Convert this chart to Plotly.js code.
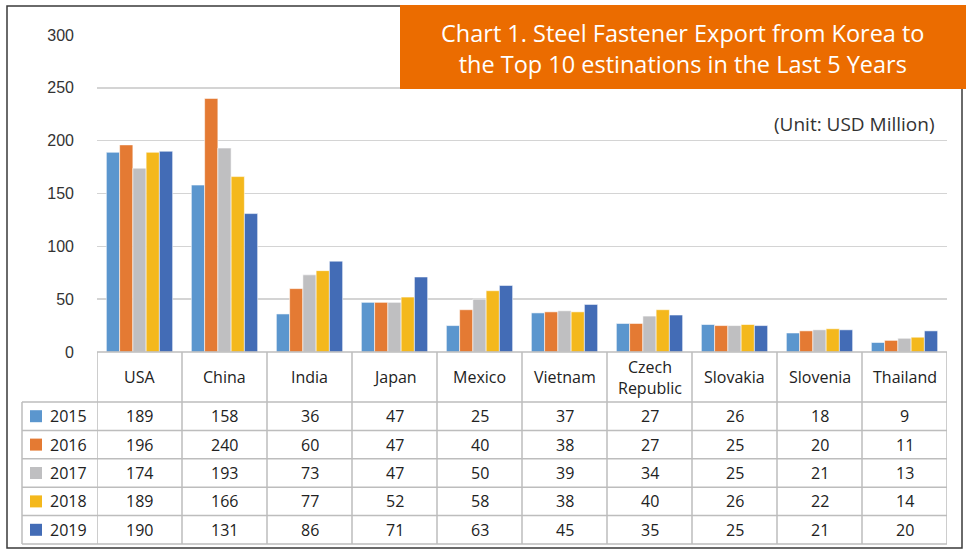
<!DOCTYPE html>
<html>
<head>
<meta charset="utf-8">
<script src="https://cdn.plot.ly/plotly-3.0.1.min.js"></script>
<style>html,body{margin:0;padding:0;background:#fff;}#chart{width:968px;height:549px;}</style>
</head>
<body>
<div id="chart"></div>
<script>
// ---- data ----
const countries = ["USA", "China", "India", "Japan", "Mexico", "Vietnam", "Czech<br>Republic", "Slovakia", "Slovenia", "Thailand"];
const years = ["2015", "2016", "2017", "2018", "2019"];
const v2015 = [189, 158, 36, 47, 25, 37, 27, 26, 18, 9];
const v2016 = [196, 240, 60, 47, 40, 38, 27, 25, 20, 11];
const v2017 = [174, 193, 73, 47, 50, 39, 34, 25, 21, 13];
const v2018 = [189, 166, 77, 52, 58, 38, 40, 26, 22, 14];
const v2019 = [190, 131, 86, 71, 63, 45, 35, 25, 21, 20];
const yTicks = [0, 50, 100, 150, 200, 250, 300];
const titleLines = ["Chart 1. Steel Fastener Export from Korea to", "the Top 10 estinations in the Last 5 Years"];
const unitText = "(Unit: USD Million)";

const seriesValues = [v2015, v2016, v2017, v2018, v2019];
const colors = ["#5B96CE", "#E47A33", "#BFBFC1", "#F4B81C", "#436CB6"];

// ---- geometry helpers (pixels -> paper) ----
const W = 968, H = 549;
const L = 97, R = 947, T = 35, B = 352;
const px = x => (x - L) / (R - L);
const py = y => (B - y) / (B - T);

const traces = years.map((yr, i) => ({
  type: "bar",
  name: yr,
  x: countries,
  y: seriesValues[i],
  marker: {color: colors[i], line: {color: "rgba(255,255,255,0.7)", width: 0.8}},
  hoverinfo: "x+y+name"
}));

const shapes = [];
const annotations = [];
const lineColor = "#BDBDBD";
const rowTop = 402, rowH = 28.4;
const tableBottom = rowTop + rowH * years.length;
const textFamily = "'Open Sans', Roboto, sans-serif";

// outer border
shapes.push({type: "rect", xref: "paper", yref: "paper", x0: px(7), x1: px(962), y0: py(6), y1: py(548),
  line: {color: "#3a3a3a", width: 1.5}, fillcolor: "rgba(0,0,0,0)", layer: "above"});
// title box
shapes.push({type: "rect", xref: "paper", yref: "paper", x0: px(400), x1: px(966), y0: py(5), y1: py(89),
  line: {width: 0}, fillcolor: "#EB6C00", layer: "above"});

// table horizontal lines
shapes.push({type: "line", xref: "paper", yref: "paper", x0: px(L), x1: px(R), y0: py(B), y1: py(B), line: {color: lineColor, width: 1.5}});
for (let k = 0; k <= years.length; k++) {
  const y = rowTop + rowH * k;
  shapes.push({type: "line", xref: "paper", yref: "paper", x0: px(22), x1: px(R), y0: py(y), y1: py(y), line: {color: lineColor, width: 1.5}});
}
// table vertical lines
shapes.push({type: "line", xref: "paper", yref: "paper", x0: px(22), x1: px(22), y0: py(rowTop), y1: py(tableBottom), line: {color: lineColor, width: 1.5}});
for (let c = 0; c <= countries.length; c++) {
  shapes.push({type: "line", xref: "x", yref: "paper", x0: c - 0.5, x1: c - 0.5, y0: py(B), y1: py(tableBottom), line: {color: lineColor, width: 1.5}});
}

const tableFont = {family: textFamily, size: 16, color: "#222"};

// header row
countries.forEach((c, i) => {
  annotations.push({xref: "x", yref: "paper", x: c, y: py((B + rowTop) / 2), text: c, showarrow: false,
    font: tableFont, xanchor: "center", yanchor: "middle", align: "center"});
});
// data rows
years.forEach((yr, r) => {
  const yc = rowTop + rowH * (r + 0.5);
  shapes.push({type: "rect", xref: "paper", yref: "paper", x0: px(30), x1: px(42), y0: py(yc - 6), y1: py(yc + 6),
    fillcolor: colors[r], line: {width: 0}});
  annotations.push({xref: "paper", yref: "paper", x: px(48), y: py(yc), text: yr, showarrow: false,
    font: tableFont, xanchor: "left", yanchor: "middle"});
  seriesValues[r].forEach((v, i) => {
    annotations.push({xref: "x", yref: "paper", x: countries[i], y: py(yc), text: String(v), showarrow: false,
      font: tableFont, xanchor: "center", yanchor: "middle"});
  });
});

// title (single annotation, two lines)
annotations.push({xref: "paper", yref: "paper", x: px(683), y: py(49), text: titleLines.join("<br>"), showarrow: false,
  font: {family: textFamily, size: 23.5, color: "#fff"}, xanchor: "center", yanchor: "middle", align: "center"});
// unit
annotations.push({xref: "paper", yref: "paper", x: px(937), y: py(124), text: unitText, showarrow: false,
  font: {family: textFamily, size: 19, color: "#333"}, xanchor: "right", yanchor: "middle"});

const layout = {
  width: W, height: H,
  margin: {l: L, r: W - R, t: T, b: H - B, pad: 0},
  paper_bgcolor: "#fff", plot_bgcolor: "#fff",
  showlegend: false,
  barmode: "group", bargap: 0.22, bargroupgap: 0,
  xaxis: {type: "category", range: [-0.5, countries.length - 0.5], showticklabels: false, showgrid: false, zeroline: false, showline: false, fixedrange: true},
  yaxis: {range: [0, 300], tickvals: yTicks, ticktext: yTicks.map(String), showgrid: true, gridcolor: "#D4D4D4", gridwidth: 1.5,
    zeroline: false, showline: false, ticks: "", ticklabelstandoff: 22,
    tickfont: {family: "'Liberation Sans', Arial, sans-serif", size: 16, color: "#333"}, fixedrange: true},
  shapes: shapes,
  annotations: annotations,
  font: {family: "Roboto, sans-serif"}
};

Plotly.newPlot("chart", traces, layout, {displayModeBar: false, staticPlot: true});
</script>
</body>
</html>
